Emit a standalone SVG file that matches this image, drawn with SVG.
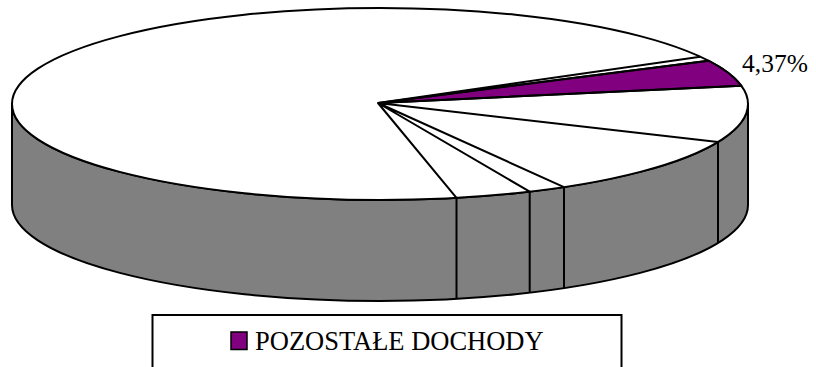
<svg xmlns="http://www.w3.org/2000/svg" width="816" height="367" viewBox="0 0 816 367">
<style>
.ln{stroke:#000;stroke-width:2;fill:none;stroke-linejoin:round}
.side{fill:#808080;stroke:#000;stroke-width:2;stroke-linejoin:round}
.top{fill:#fff;stroke:#000;stroke-width:2}
.lbl{font-family:"Liberation Serif","Times New Roman",serif;fill:#000}
</style>
<rect width="816" height="367" fill="#fff"/>
<g id="side">
<path class="side" d="M12,104 L12,205 A368,96 0 0 0 748,205 L748,104 A368,96 0 0 1 12,104 Z"/>
</g>
<g id="top">
<ellipse class="top" cx="380" cy="104" rx="368" ry="96"/>
</g>
<g id="slice-pozostale">
<path d="M378,103 L708.5,60.7 A368,96 0 0 1 741.2,85.7 Z" fill="#800080" stroke="#000" stroke-width="2" stroke-linejoin="round"/>
</g>
<g id="connectors">
<path class="ln" d="M378,103 L700.3,56.7 M378,103 L708.5,60.7 M378,103 L741.2,85.7 M378,103 L718,142 M378,103 L564,187.1 M378,103 L529.7,191.7 M378,103 L456.5,197.9"/>
<path class="ln" d="M718,142 V243 M564,187.1 V288.1 M529.7,191.7 V292.7 M456.5,197.9 V298.9"/>
</g>
<g id="label">
<text class="lbl" x="742" y="72" font-size="25.5">4,37%</text>
</g>
<g id="legend">
<rect x="152.5" y="315" width="469" height="70" fill="#fff" stroke="#000" stroke-width="2"/>
<rect x="231" y="332" width="16" height="17.5" fill="#800080" stroke="#000" stroke-width="1.5"/>
<text class="lbl" x="255" y="350" font-size="26.5">POZOSTAŁE DOCHODY</text>
</g>
</svg>
